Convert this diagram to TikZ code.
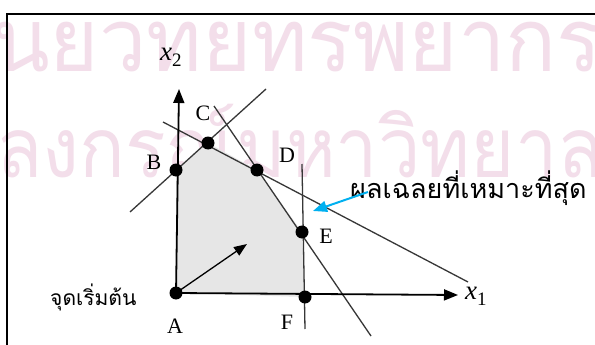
\documentclass[tikz,border=0pt]{standalone}
\usepackage{fontspec}
\setmainfont{Liberation Serif}
\newfontfamily\thai[Script=Thai]{Loma}
\usetikzlibrary{arrows.meta}
\definecolor{wm}{RGB}{243,222,234}
\definecolor{regfill}{RGB}{230,230,230}
\definecolor{cline}{RGB}{55,55,55}
\definecolor{blu}{RGB}{0,176,240}
\tikzset{
  axis/.style={line width=1.8pt,-{Triangle[length=14pt,width=11pt]}},
  cons/.style={line width=1.3pt,draw=cline},
  dot/.style={circle,fill=black,minimum size=13pt,inner sep=0pt},
  lab/.style={font=\fontsize{22}{24}\selectfont,inner sep=0pt},
  xlab/.style={font=\fontsize{27}{28}\selectfont,inner sep=0pt},
  wmark/.style={text=wm,anchor=base west,inner sep=0pt,font=\thai\fontsize{88}{90}\selectfont},
}
\begin{document}
\begin{tikzpicture}[x=1pt,y=-1pt]
\useasboundingbox (0,0) rectangle (595,345);
\clip (0,0) rectangle (595,345);
\fill[white] (0,0) rectangle (595,345);
% watermark
\node[wmark] (wm1) at (-8,72) {\scalebox{0.96}[1.0]{นยวทยทรพยากร}};
\node[wmark] (wm2) at (-4,177) {\scalebox{0.86}[0.95]{ลงกรณ์มหาวิทยาล}};
% frame
\draw[line width=2.5pt] (7,360) -- (7,14) -- (620,14);
% key points
\coordinate (A) at (176,293);
\coordinate (B) at (176,170);
\coordinate (C) at (208,143);
\coordinate (D) at (257,170);
\coordinate (E) at (302,232);
\coordinate (F) at (305,297);
\coordinate (x1tip) at (458,295);
\coordinate (x2tip) at (179,89);
% feasible region
\fill[regfill] (A) -- (B) -- (C) -- (D) -- (E) -- (F) -- cycle;
% constraint lines
\coordinate (l1s) at (130,212); \coordinate (l1e) at (266,89);
\coordinate (l2s) at (163,122); \coordinate (l2e) at (468,282);
\coordinate (l3s) at (214,106); \coordinate (l3e) at (371,336);
\coordinate (l4s) at (302,164); \coordinate (l4e) at (305,329);
\draw[cons] (l1s) -- (l1e);
\draw[cons] (l2s) -- (l2e);
\draw[cons] (l3s) -- (l3e);
\draw[cons] (l4s) -- (l4e);
% axes
\draw[axis] (A) -- (x1tip);
\draw[axis] (A) -- (x2tip);
% direction arrow
\coordinate (dir) at (247,244);
\draw[line width=1.3pt,-{Triangle[length=13pt,width=10pt]}] (A) -- (dir);
% dots
\node[dot] (dA) at (A) {};
\node[dot] (dB) at (B) {};
\node[dot] (dC) at (C) {};
\node[dot] (dD) at (D) {};
\node[dot] (dE) at (E) {};
\node[dot] (dF) at (F) {};
% labels
\node[lab] (lA) at (175,326) {A};
\node[lab] (lB) at (154,162) {B};
\node[lab] (lC) at (203,113) {C};
\node[lab] (lD) at (287,155) {D};
\node[lab] (lE) at (326,236) {E};
\node[lab] (lF) at (287,322) {F};
\node[xlab,anchor=base west] (lx2) at (160,61) {\textit{x}\fontsize{19}{20}\selectfont\raisebox{-6pt}{2}};
\node[xlab,anchor=base west] (lx1) at (465,299) {\textit{x}\fontsize{19}{20}\selectfont\raisebox{-6pt}{1}};
\node[anchor=base west,inner sep=0pt,font=\thai\fontsize{21}{22}\selectfont] (start) at (50,305) {จุดเริ่มต้น};
\node[anchor=base west,inner sep=0pt,font=\thai\fontsize{27}{28}\selectfont] (opt) at (350,198) {ผลเฉลยที่เหมาะที่สุด};
% optimal arrow
\coordinate (bs) at (368,192);
\coordinate (bt) at (313,211);
\draw[blu,line width=2pt,-{Triangle[length=14pt,width=11pt]}] (bs) -- (bt);
\end{tikzpicture}
\end{document}
